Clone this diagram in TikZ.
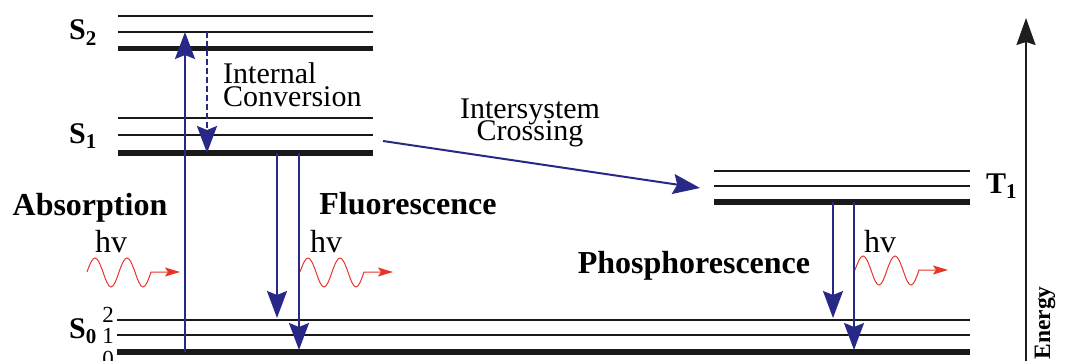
\documentclass[tikz,border=0pt]{standalone}
\usepackage{fontspec}
\setmainfont{Liberation Serif}
\usetikzlibrary{arrows.meta}
\definecolor{navy}{RGB}{40,40,135}
\definecolor{phred}{RGB}{232,52,40}
\definecolor{axisgray}{RGB}{30,30,30}
\newcommand\mytightls{\lineskiplimit=-200pt\relax}
\begin{document}
\begin{tikzpicture}[x=1pt,y=-1pt,
  thinlvl/.style={line width=2pt,black!90},
  thicklvl/.style={line width=5.5pt,black!90},
  trans/.style={navy,line width=2pt,-{Stealth[length=27pt,width=20pt,inset=4pt]}},
  dashtrans/.style={trans,dash pattern=on 6pt off 3pt},
  photon/.style={phred,line width=1pt,-{Stealth[length=15pt,width=9pt,inset=3pt]}},
  photonpic/.pic={\draw[photon] (0,0) sin (8,-14) cos (16,0) sin (24,15) cos (32,0) sin (40,-14) cos (48,0) sin (56,15) cos (64,0) -- (93,0);},
  boldlab/.style={font=\fontsize{32}{34}\selectfont\bfseries,inner sep=0pt},
  statelab/.style={font=\fontsize{30}{32}\selectfont\bfseries,inner sep=0pt},
  txt/.style={font=\fontsize{30}{23}\selectfont\mytightls,inner sep=0pt},
  isctxt/.style={font=\fontsize{30}{22}\selectfont\mytightls,inner sep=0pt},
  hvtxt/.style={font=\fontsize{32}{34}\selectfont,inner sep=0pt},
  numlab/.style={font=\fontsize{23}{25}\selectfont,inner sep=0pt},
  energylab/.style={font=\fontsize{23.5}{25}\selectfont\bfseries,inner sep=0pt},
  axisarrow/.style={axisgray,line width=2pt,-{Stealth[length=27pt,width=19pt,inset=3pt]}}
]
\useasboundingbox (0,0) rectangle (1065,361);
% ---- energy levels
% S2
\draw[thinlvl] (118,16) -- (373,16);
\draw[thinlvl] (118,32) -- (373,32);
\draw[thicklvl] (118,48.5) -- (373,48.5);
% S1
\draw[thinlvl] (118,118) -- (373,118);
\draw[thinlvl] (118,135) -- (373,135);
\draw[thicklvl] (118,153) -- (373,153);
% S0
\draw[thinlvl] (117,320) -- (970,320);
\draw[thinlvl] (117,335) -- (970,335);
\draw[thicklvl] (117,352) -- (970,352);
% T1
\draw[thinlvl] (714,171) -- (970,171);
\draw[thinlvl] (714,186) -- (970,186);
\draw[thicklvl] (714,202) -- (970,202);
% ---- state labels
\node[statelab,anchor=base east] (S2) at (97,40) {S\textsubscript{2}};
\node[statelab,anchor=base east] (S1) at (97,143) {S\textsubscript{1}};
\node[statelab,anchor=base east] (S0) at (97,338) {S\textsubscript{0}};
\node[statelab,anchor=base west] (T1) at (986,193) {T\textsubscript{1}};
\node[numlab,anchor=base] (n2) at (108,322) {2};
\node[numlab,anchor=base] (n1) at (108,343) {1};
\node[numlab,anchor=base] (n0) at (108,366) {0};
% ---- transition end points
\coordinate (absA) at (185,352);
\coordinate (absB) at (185,32);
\coordinate (icA) at (207,32);
\coordinate (icB) at (207,153);
\coordinate (flA1) at (277,153);
\coordinate (flB1) at (277,318);
\coordinate (flA2) at (299,153);
\coordinate (flB2) at (299,350);
\coordinate (iscA) at (383,141);
\coordinate (iscB) at (700,188);
\coordinate (phA1) at (833,202);
\coordinate (phB1) at (833,318);
\coordinate (phA2) at (854,202);
\coordinate (phB2) at (854,350);
\coordinate (enA) at (1026,361);
\coordinate (enB) at (1026,18);
% ---- transitions
\draw[trans] (absA) -- (absB);
\draw[dashtrans] (icA) -- (icB);
\draw[trans] (flA1) -- (flB1);
\draw[trans] (flA2) -- (flB2);
\draw[trans] (iscA) -- (iscB);
\draw[trans] (phA1) -- (phB1);
\draw[trans] (phA2) -- (phB2);
\draw[axisarrow] (enA) -- (enB);
% ---- photons
\pic at (87,272) {photonpic};
\pic at (300,272) {photonpic};
\pic at (855,270) {photonpic};
% ---- text labels
\node[txt,anchor=west,align=left] (ic) at (223,84.3) {Internal\\Conversion};
\node[isctxt,align=center] (isc) at (530,123.3) {Intersystem\\Crossing};
\node[hvtxt,anchor=base] (hv1) at (111,252) {hv};
\node[hvtxt,anchor=base] (hv2) at (326,252) {hv};
\node[hvtxt,anchor=base] (hv3) at (880,252) {hv};
\node[boldlab,anchor=base] (abs) at (90,215) {Absorption};
\node[boldlab,anchor=base] (fl) at (408,214) {Fluorescence};
\node[boldlab,anchor=base] (ph) at (694,273) {Phosphorescence};
\node[energylab,rotate=90,anchor=base] (en) at (1050,323) {Energy};
\end{tikzpicture}
\end{document}
